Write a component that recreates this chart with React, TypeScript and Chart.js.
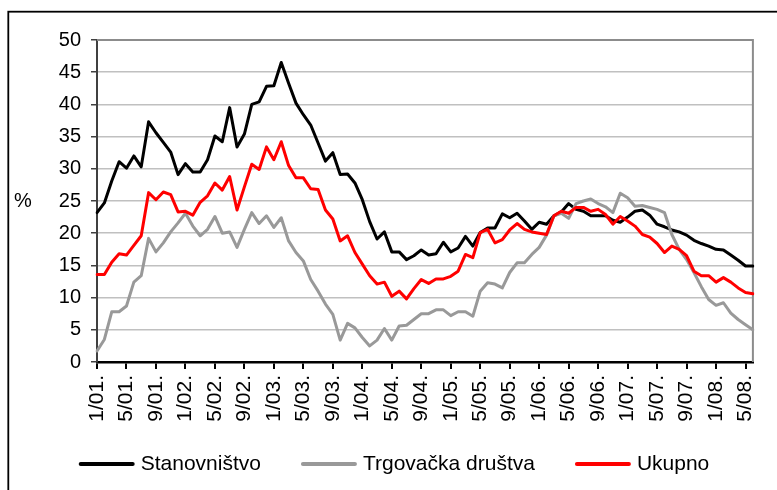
import React, { useEffect, useRef } from "react";
import { Chart, registerables } from "chart.js";

Chart.register(...registerables);

const categories = [
  "1/01.", "2/01.", "3/01.", "4/01.", "5/01.", "6/01.", "7/01.", "8/01.", "9/01.", "10/01.", "11/01.", "12/01.",
  "1/02.", "2/02.", "3/02.", "4/02.", "5/02.", "6/02.", "7/02.", "8/02.", "9/02.", "10/02.", "11/02.", "12/02.",
  "1/03.", "2/03.", "3/03.", "4/03.", "5/03.", "6/03.", "7/03.", "8/03.", "9/03.", "10/03.", "11/03.", "12/03.",
  "1/04.", "2/04.", "3/04.", "4/04.", "5/04.", "6/04.", "7/04.", "8/04.", "9/04.", "10/04.", "11/04.", "12/04.",
  "1/05.", "2/05.", "3/05.", "4/05.", "5/05.", "6/05.", "7/05.", "8/05.", "9/05.", "10/05.", "11/05.", "12/05.",
  "1/06.", "2/06.", "3/06.", "4/06.", "5/06.", "6/06.", "7/06.", "8/06.", "9/06.", "10/06.", "11/06.", "12/06.",
  "1/07.", "2/07.", "3/07.", "4/07.", "5/07.", "6/07.", "7/07.", "8/07.", "9/07.", "10/07.", "11/07.", "12/07.",
  "1/08.", "2/08.", "3/08.", "4/08.", "5/08.", "6/08.",
];

const tickLabels = [
  "1/01.", "5/01.", "9/01.", "1/02.", "5/02.", "9/02.", "1/03.", "5/03.", "9/03.",
  "1/04.", "5/04.", "9/04.", "1/05.", "5/05.", "9/05.", "1/06.", "5/06.", "9/06.",
  "1/07.", "5/07.", "9/07.", "1/08.", "5/08.",
];

const stanovnistvo = [
  23.2, 24.7, 28.1, 31.1, 30.1, 32.0, 30.3, 37.3, 35.6, 34.1, 32.6, 29.1,
  30.8, 29.5, 29.5, 31.4, 35.1, 34.2, 39.5, 33.4, 35.4, 40.0, 40.4, 42.8,
  42.9, 46.5, 43.3, 40.2, 38.4, 36.8, 34.0, 31.2, 32.5, 29.1, 29.2, 27.8,
  25.2, 21.8, 19.1, 20.2, 17.1, 17.1, 15.9, 16.5, 17.4, 16.6, 16.8, 18.6,
  17.1, 17.7, 19.5, 18.0, 20.1, 20.8, 20.8, 23.0, 22.4, 23.1, 21.9, 20.6,
  21.7, 21.4, 22.7, 23.3, 24.6, 23.7, 23.4, 22.7, 22.7, 22.7, 22.0, 21.7,
  22.5, 23.4, 23.6, 22.8, 21.4, 21.0, 20.5, 20.2, 19.7, 18.9, 18.4, 18.0,
  17.5, 17.4, 16.6, 15.8, 14.9, 14.9,
];

const trgovackaDrustva = [
  1.7, 3.5, 7.8, 7.8, 8.7, 12.4, 13.4, 19.2, 17.1, 18.5, 20.2, 21.6,
  23.1, 21.1, 19.6, 20.6, 22.6, 20.0, 20.2, 17.8, 20.6, 23.2, 21.5, 22.7,
  20.9, 22.4, 18.8, 17.0, 15.7, 12.8, 11.0, 9.0, 7.4, 3.4, 6.0, 5.3,
  3.8, 2.5, 3.4, 5.2, 3.4, 5.6, 5.7, 6.6, 7.5, 7.5, 8.1, 8.1,
  7.2, 7.8, 7.8, 7.1, 11.0, 12.3, 12.1, 11.5, 13.9, 15.4, 15.4, 16.7,
  17.8, 19.7, 22.7, 23.1, 22.3, 24.6, 25.0, 25.3, 24.6, 24.1, 23.2, 26.2,
  25.5, 24.2, 24.3, 24.0, 23.7, 23.2, 19.8, 17.5, 15.9, 13.9, 11.7, 9.7,
  8.8, 9.2, 7.6, 6.6, 5.8, 5.0,
];

const ukupno = [
  13.6, 13.6, 15.5, 16.8, 16.6, 18.1, 19.6, 26.3, 25.2, 26.4, 26.0, 23.3,
  23.4, 22.8, 24.8, 25.8, 27.8, 26.7, 28.8, 23.6, 27.2, 30.7, 29.9, 33.4,
  31.4, 34.2, 30.5, 28.6, 28.6, 26.9, 26.8, 23.6, 22.2, 18.8, 19.6, 17.0,
  15.2, 13.4, 12.1, 12.4, 10.2, 11.0, 9.8, 11.4, 12.8, 12.2, 12.9, 12.9,
  13.3, 14.1, 16.7, 16.2, 20.1, 20.6, 18.5, 19.0, 20.5, 21.5, 20.6, 20.2,
  20.0, 19.8, 22.7, 23.4, 23.1, 24.0, 24.0, 23.4, 23.7, 22.9, 21.4, 22.6,
  21.9, 21.1, 19.8, 19.4, 18.4, 17.0, 18.0, 17.5, 16.5, 14.1, 13.4, 13.4,
  12.4, 13.1, 12.4, 11.5, 10.8, 10.6,
];

const seriesNames = ["Stanovništvo", "Trgovačka društva", "Ukupno"];
const seriesColors = ["#000000", "#999999", "#ff0000"];
const yAxisTitle = "%";

const FONT = "'Liberation Sans', Arial, sans-serif";

const decorPlugin = {
  id: "decor",
  beforeDatasetsDraw(chart: any) {
    const { ctx, chartArea } = chart;
    ctx.save();
    ctx.strokeStyle = "#8c8c8c";
    ctx.lineWidth = 2;
    ctx.beginPath();
    ctx.moveTo(chartArea.left, chartArea.top);
    ctx.lineTo(chartArea.right, chartArea.top);
    ctx.lineTo(chartArea.right, chartArea.bottom);
    ctx.stroke();
    ctx.restore();
  },
  afterDraw(chart: any) {
    const { ctx, chartArea } = chart;
    ctx.save();
    // outer frame
    ctx.strokeStyle = "#000";
    ctx.lineWidth = 1.8;
    ctx.strokeRect(8.3, 11.7, 1000, 1000);
    // y-axis title (horizontal)
    ctx.fillStyle = "#000";
    ctx.font = `20px ${FONT}`;
    ctx.textAlign = "center";
    ctx.textBaseline = "middle";
    ctx.fillText(yAxisTitle, 23, (chartArea.top + chartArea.bottom) / 2);
    // legend
    ctx.font = `21px ${FONT}`;
    const items = chart.data.datasets.map((ds: any) => ({
      text: ds.label,
      color: ds.borderColor,
      w: ctx.measureText(ds.label).width,
    }));
    const lineW = 56;
    const gapT = 6;
    const gapI = 40;
    const total =
      items.reduce((s: number, it: any) => s + lineW + gapT + it.w, 0) + gapI * (items.length - 1);
    let x = 394 - total / 2;
    const y = 464;
    ctx.textAlign = "left";
    items.forEach((it: any) => {
      ctx.strokeStyle = it.color;
      ctx.lineWidth = 4;
      ctx.lineCap = "round";
      ctx.beginPath();
      ctx.moveTo(x + 2, y);
      ctx.lineTo(x + lineW - 2, y);
      ctx.stroke();
      x += lineW + gapT;
      ctx.fillStyle = "#000";
      ctx.fillText(it.text, x, y);
      x += it.w + gapI;
    });
    ctx.restore();
  },
};

export default function App() {
  const canvasRef = useRef<HTMLCanvasElement | null>(null);

  useEffect(() => {
    const canvas = canvasRef.current;
    if (!canvas) return;
    const seriesData = [stanovnistvo, trgovackaDrustva, ukupno];
    const chart = new Chart(canvas, {
      type: "line",
      data: {
        labels: categories,
        datasets: seriesData.map((d, i) => ({
          label: seriesNames[i],
          data: d,
          borderColor: seriesColors[i],
          backgroundColor: seriesColors[i],
          borderWidth: 3,
          pointRadius: 0,
          pointHoverRadius: 0,
          tension: 0,
          fill: false,
          borderJoinStyle: "round" as const,
          borderCapStyle: "round" as const,
          order: 2 - i,
        })),
      },
      options: {
        responsive: false,
        animation: false,
        layout: { padding: { top: 40, right: 24, left: 0, bottom: 0 } },
        plugins: {
          legend: { display: false },
          tooltip: { enabled: false },
          title: { display: false },
        },
        scales: {
          x: {
            type: "category",
            offset: false,
            grid: {
              display: true,
              drawOnChartArea: false,
              drawTicks: true,
              tickLength: 7,
              color: "#000",
              lineWidth: 2,
              offset: false,
            },
            border: { display: true, color: "#000", width: 2.5 },
            ticks: {
              autoSkip: false,
              maxRotation: 90,
              minRotation: 90,
              padding: 6,
              color: "#000",
              font: { family: FONT, size: 21 },
              callback: (_v: any, i: number) =>
                tickLabels.includes(categories[i]) ? categories[i] : null,
            },
            afterFit: (s: any) => {
              s.height = 128;
            },
          },
          y: {
            min: 0,
            max: 50,
            ticks: {
              stepSize: 5,
              padding: 10,
              color: "#000",
              font: { family: FONT, size: 20 },
            },
            grid: {
              color: "#c0c0c0",
              lineWidth: 1.5,
              tickLength: 6,
              tickColor: "#404040",
              drawTicks: true,
            },
            border: { display: true, color: "#404040", width: 2 },
            afterFit: (s: any) => {
              s.width = 97;
            },
          },
        },
      },
      plugins: [decorPlugin],
    });
    return () => chart.destroy();
  }, []);

  return (
    <div style={{ position: "absolute", left: 0, top: 0, width: 777, height: 490 }}>
      <canvas ref={canvasRef} width={777} height={490} />
    </div>
  );
}
